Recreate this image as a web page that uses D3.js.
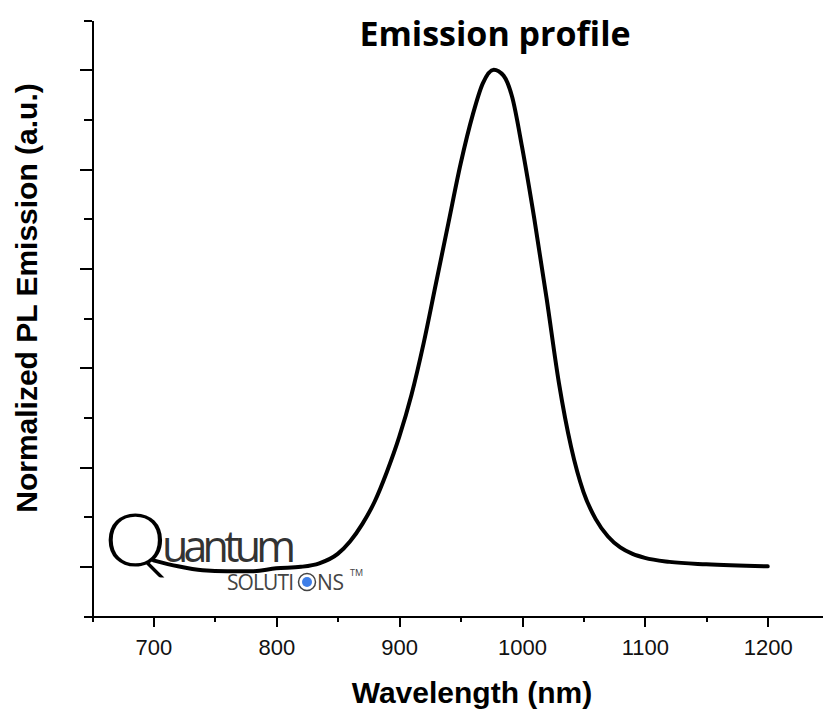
<!DOCTYPE html>
<html lang="en">
  <head>
    <meta charset="utf-8">
    <title>Emission profile</title>
    <script src="https://cdn.jsdelivr.net/npm/d3@7"></script>
    <style type="text/css">
      body { margin: 0; background: #fff; }
      .axis path, .axis line { stroke: #000; stroke-width: 2; shape-rendering: crispEdges; }
      .axis text { font-family: "Liberation Sans", Arial, sans-serif; font-size: 22px; fill: #111; }
      .curve { fill: none; stroke: #000; stroke-width: 4; stroke-linejoin: round; stroke-linecap: round; }
      .label { font-family: "Liberation Sans", Arial, sans-serif; font-weight: bold; font-size: 30px; fill: #000; }
    </style>
  </head>
  <body>
    <script type="text/javascript">
      var w = 823;
      var h = 710;

      // spectrum (nm, normalized PL)
      var wavelength = [700, 720, 740, 760, 780, 800, 820, 835, 850, 860, 870, 880, 890, 900, 910, 920, 930, 940, 950, 960, 968, 977,
                        985, 992, 1000, 1010, 1020, 1030, 1040, 1050, 1060, 1070, 1080, 1090, 1100, 1120, 1150, 1200];
      var emission = [0.012, 0.0, -0.008, -0.01, -0.01, -0.004, -0.001, 0.006, 0.025, 0.05, 0.085, 0.13, 0.19, 0.26, 0.345, 0.45, 0.57, 0.69, 0.81, 0.91, 0.972, 1.0,
                      0.988, 0.945, 0.845, 0.70, 0.54, 0.37, 0.24, 0.15, 0.095, 0.06, 0.038, 0.025, 0.017, 0.009, 0.004, 0.0];

      var xMajor = [700, 800, 900, 1000, 1100, 1200];
      var xMinor = [650, 750, 850, 950, 1050, 1150];
      var yMajor = [0, 0.2, 0.4, 0.6, 0.8, 1.0];
      var yMinor = [-0.1, 0.1, 0.3, 0.5, 0.7, 0.9, 1.1];

      var dataset = wavelength.map(function(d, i) { return {nm: d, v: emission[i]}; });

      var xScale = d3.scaleLinear().domain([650, 1245]).range([92, 823]);
      var yScale = d3.scaleLinear().domain([-0.1, 1.1]).range([616, 20]);

      var svg = d3.select("body").append("svg")
            .attr("width", w)
            .attr("height", h);

      //y axis, ticks only
      svg.append("g")
          .attr("class", "axis")
          .attr("transform", "translate(92,0)")
          .call(d3.axisLeft(yScale).tickValues(yMinor).tickSize(8).tickSizeOuter(0).tickFormat(""));
      svg.append("g")
          .attr("class", "axis")
          .attr("transform", "translate(92,0)")
          .call(d3.axisLeft(yScale).tickValues(yMajor).tickSize(12).tickSizeOuter(0).tickFormat(""));

      //x axis
      svg.append("g")
          .attr("class", "axis")
          .attr("transform", "translate(0,616)")
          .call(d3.axisBottom(xScale).tickValues(xMinor).tickSize(6).tickSizeOuter(0).tickFormat(""));
      svg.append("g")
          .attr("class", "axis")
          .attr("transform", "translate(0,616)")
          .call(d3.axisBottom(xScale).tickValues(xMajor).tickSize(11).tickSizeOuter(0).tickPadding(12).tickFormat(d3.format("d")));

      var line = d3.line()
          .x(function(d) { return xScale(d.nm); })
          .y(function(d) { return yScale(d.v); })
          .curve(d3.curveMonotoneX);

      svg.append("path")
          .datum(dataset)
          .attr("class", "curve")
          .attr("d", line);

      // titles
      svg.append("text")
          .attr("x", 495)
          .attr("y", 46)
          .attr("text-anchor", "middle")
          .style("font-family", "'Open Sans', sans-serif")
          .style("font-weight", "bold")
          .style("font-size", "34px")
          .text("Emission profile");

      svg.append("text")
          .attr("class", "label")
          .attr("x", 472)
          .attr("y", 703)
          .attr("text-anchor", "middle")
          .text("Wavelength (nm)");

      svg.append("text")
          .attr("class", "label")
          .attr("transform", "translate(37,298) rotate(-90)")
          .attr("text-anchor", "middle")
          .text("Normalized PL Emission (a.u.)");

      // logo
      var logo = svg.append("g");
      logo.append("text")
          .attr("transform", "translate(104,566) scale(1.1,1)")
          .style("font-family", "Lato, sans-serif")
          .style("font-weight", "300")
          .style("font-size", "72px")
          .style("fill", "#000")
          .text("Q");
      logo.append("text")
          .attr("x", 162)
          .attr("y", 562)
          .attr("textLength", 134)
          .style("font-family", "'Open Sans', sans-serif")
          .style("font-size", "43px")
          .style("fill", "#333")
          .text("uantum");
      logo.append("text")
          .attr("x", 227)
          .attr("y", 590)
          .attr("textLength", 67)
          .style("font-family", "'Open Sans', sans-serif")
          .style("font-size", "21px")
          .style("fill", "#444")
          .text("SOLUTI");
      logo.append("circle")
          .attr("cx", 307).attr("cy", 582).attr("r", 8.5)
          .style("fill", "none").style("stroke", "#444").style("stroke-width", 1.5);
      logo.append("circle")
          .attr("cx", 307).attr("cy", 582).attr("r", 5)
          .style("fill", "#3f7fe8");
      logo.append("text")
          .attr("x", 317)
          .attr("y", 590)
          .attr("textLength", 27)
          .style("font-family", "'Open Sans', sans-serif")
          .style("font-size", "21px")
          .style("fill", "#444")
          .text("NS");
      logo.append("text")
          .attr("x", 350)
          .attr("y", 576)
          .style("font-family", "'Open Sans', sans-serif")
          .style("font-size", "9px")
          .style("fill", "#444")
          .text("TM");
    </script>
  </body>
</html>
